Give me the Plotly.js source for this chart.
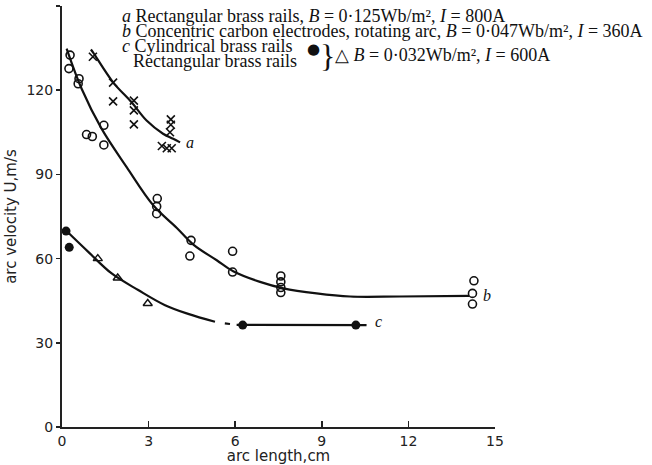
<!DOCTYPE html>
<html><head><meta charset="utf-8">
<script src="https://cdn.plot.ly/plotly-3.0.1.min.js"></script>
<style>html,body{margin:0;padding:0;background:#fff}#chart{width:652px;height:465px}</style>
</head><body><div id="chart"></div>
<script>
// Series a: rectangular brass rails (crosses)
const aX = [1.07, 1.77, 1.77, 2.49, 2.49, 2.49, 3.77, 3.77, 3.74, 3.46, 3.63, 3.80];
const aY = [131.9, 122.7, 116.0, 116.3, 112.8, 107.8, 109.6, 107.7, 105.0, 100.1, 99.3, 99.3];
const aCurveX = [1.00, 1.08, 1.77, 2.41, 2.93, 3.50, 3.85, 4.09];
const aCurveY = [134.5, 133.4, 122.8, 115.7, 109.2, 104.5, 102.7, 101.4];

// Series b: concentric carbon electrodes (open circles)
const bX = [0.28, 0.24, 0.59, 0.56, 0.85, 1.05, 1.45, 1.45, 3.30, 3.28, 3.28, 4.47, 4.43, 5.91, 5.91, 7.58, 7.58, 7.58, 7.58, 14.27, 14.22, 14.22];
const bY = [132.5, 127.7, 124.1, 122.3, 104.2, 103.5, 107.5, 100.5, 81.4, 78.6, 76.0, 66.5, 60.9, 62.6, 55.2, 53.8, 51.7, 49.7, 47.9, 52.1, 47.6, 43.8];
const bCurveX = [0.16, 0.68, 1.37, 2.24, 3.16, 3.97, 4.55, 5.36, 5.93, 6.86, 7.67, 8.82, 9.98, 11.7, 14.1];
const bCurveY = [134.8, 120.5, 106.3, 92.6, 79.0, 71.0, 65.0, 59.4, 55.5, 51.7, 49.4, 47.6, 46.5, 46.5, 46.7];

// Series c: cylindrical brass rails (filled circles) and rectangular brass rails (triangles)
const cCylX = [0.14, 0.25, 6.26, 10.18];
const cCylY = [69.8, 64.0, 36.3, 36.3];
const cRectX = [1.24, 1.93, 2.97];
const cRectY = [60.0, 53.1, 44.0];
const cCurveX = [0.14, 0.91, 1.72, 2.64, 3.57, 4.37, 5.30, null, 5.64, 5.82, null, 6.05, 10.55];
const cCurveY = [70.0, 62.4, 54.7, 48.8, 43.4, 40.3, 37.5, null, 36.9, 36.7, null, 36.4, 36.3];

// Axis ticks
const xTicks = [0, 3, 6, 9, 12, 15];
const yTicks = [0, 30, 60, 90, 120, 150];
const yTickText = ['0', '30', '60', '90', '120', '150'];

const lineStyle = {color: '#111', width: 2.2, shape: 'spline', smoothing: 1};
const traces = [
  {x: aCurveX, y: aCurveY, mode: 'lines', line: lineStyle, hoverinfo: 'skip', name: 'a fit'},
  {x: bCurveX, y: bCurveY, mode: 'lines', line: lineStyle, hoverinfo: 'skip', name: 'b fit'},
  {x: cCurveX, y: cCurveY, mode: 'lines', line: lineStyle, connectgaps: false, hoverinfo: 'skip', name: 'c fit'},
  {x: aX, y: aY, mode: 'markers', name: 'a', cliponaxis: false,
   marker: {symbol: 'x-thin-open', size: 8, color: '#111', line: {width: 1.6, color: '#111'}}},
  {x: bX, y: bY, mode: 'markers', name: 'b', cliponaxis: false,
   marker: {symbol: 'circle-open', size: 8, color: '#111', line: {width: 1.6, color: '#111'}}},
  {x: cCylX, y: cCylY, mode: 'markers', name: 'c cylindrical', cliponaxis: false,
   marker: {symbol: 'circle', size: 9, color: '#111'}},
  {x: cRectX, y: cRectY, mode: 'markers', name: 'c rectangular', cliponaxis: false,
   marker: {symbol: 'triangle-up-open', size: 8, color: '#111', line: {width: 1.4, color: '#111'}}}
];

const serif = {family: 'Liberation Serif, serif', size: 18, color: '#111'};
function pxX(px) { return (px - 62) / 433; }
function pxY(py) { return (427 - py) / 421; }
const ann = [
  {xref: 'paper', yref: 'paper', x: pxX(121), y: pxY(16), xanchor: 'left', yanchor: 'middle', showarrow: false, font: serif, borderpad: 0,
   text: '<i>a</i> Rectangular brass rails, <i>B</i> = 0·125Wb/m², <i>I</i> = 800A'},
  {xref: 'paper', yref: 'paper', x: pxX(121), y: pxY(31), xanchor: 'left', yanchor: 'middle', showarrow: false, font: serif, borderpad: 0,
   text: '<i>b</i> Concentric carbon electrodes, rotating arc, <i>B</i> = 0·047Wb/m², <i>I</i> = 360A'},
  {xref: 'paper', yref: 'paper', x: pxX(121), y: pxY(46), xanchor: 'left', yanchor: 'middle', showarrow: false, font: serif, borderpad: 0,
   text: '<i>c</i> Cylindrical brass rails'},
  {xref: 'paper', yref: 'paper', x: pxX(132), y: pxY(61), xanchor: 'left', yanchor: 'middle', showarrow: false, font: serif, borderpad: 0,
   text: 'Rectangular brass rails'},
  {xref: 'paper', yref: 'paper', x: pxX(313), y: pxY(49), xanchor: 'center', yanchor: 'middle', showarrow: false, borderpad: 0,
   font: {family: 'DejaVu Sans', size: 15, color: '#111'}, text: '●'},
  {xref: 'paper', yref: 'paper', x: pxX(327), y: pxY(56), xanchor: 'center', yanchor: 'middle', showarrow: false, borderpad: 0,
   font: {family: 'Liberation Serif', size: 32, color: '#111'}, text: '}'},
  {xref: 'paper', yref: 'paper', x: pxX(334), y: pxY(55), xanchor: 'left', yanchor: 'middle', showarrow: false, font: serif, borderpad: 0,
   text: '△ <i>B</i> = 0·032Wb/m², <i>I</i> = 600A'},
  {x: 4.45, y: 101.4, xanchor: 'center', yanchor: 'middle', showarrow: false, font: {family: 'Liberation Serif', size: 16, color: '#111'}, text: '<i>a</i>'},
  {x: 14.72, y: 47, xanchor: 'center', yanchor: 'middle', showarrow: false, font: {family: 'Liberation Serif', size: 16, color: '#111'}, text: '<i>b</i>'},
  {x: 10.95, y: 37.7, xanchor: 'center', yanchor: 'middle', showarrow: false, font: {family: 'Liberation Serif', size: 16, color: '#111'}, text: '<i>c</i>'}
];

const tickFont = {family: 'DejaVu Sans, sans-serif', size: 14, color: '#222'};
const titleFont = {family: 'DejaVu Sans, sans-serif', size: 15, color: '#222'};
const layout = {
  width: 652, height: 465,
  margin: {l: 62, r: 157, t: 6, b: 38, pad: 0},
  paper_bgcolor: '#fff', plot_bgcolor: '#fff',
  showlegend: false,
  xaxis: {range: [0, 15], tickvals: xTicks, ticktext: xTicks.map(String), ticks: 'inside', ticklen: 6, tickwidth: 1.5, tickcolor: '#222',
    showline: true, linecolor: '#222', linewidth: 2, showgrid: false, zeroline: false, tickfont: tickFont,
    title: {text: 'arc length,cm', font: titleFont, standoff: 3}},
  yaxis: {range: [0, 150], tickvals: yTicks, ticktext: yTickText, ticks: 'outside', ticklen: 4, tickwidth: 1.5, tickcolor: '#222',
    showline: true, linecolor: '#222', linewidth: 2, showgrid: false, zeroline: false, tickfont: tickFont,
    title: {text: 'arc velocity U,m/s', font: titleFont, standoff: 6}},
  annotations: ann
};
Plotly.newPlot('chart', traces, layout, {displayModeBar: false, staticPlot: true});
</script>
</body></html>
